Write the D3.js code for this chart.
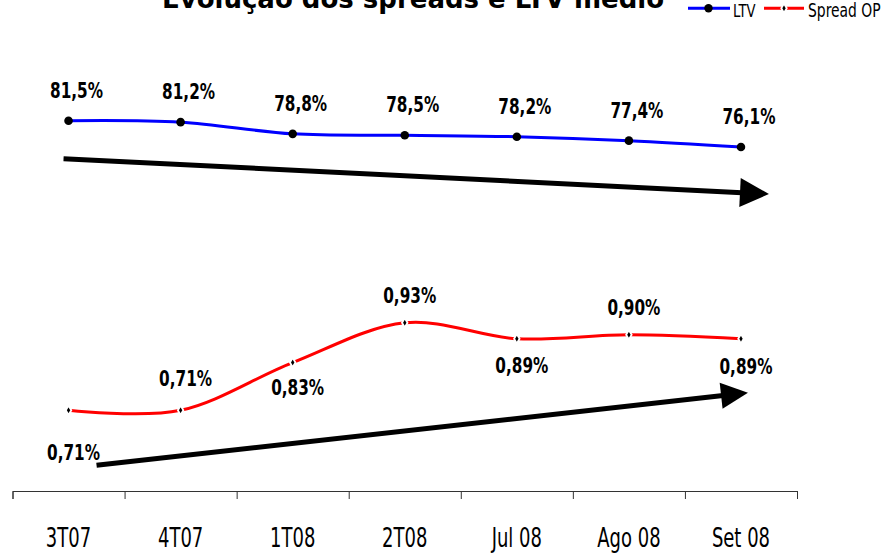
<!DOCTYPE html>
<html>
<head>
<meta charset="utf-8">
<script src="https://cdn.jsdelivr.net/npm/d3@7"></script>
<style>
  body { margin: 0; background: #fff; }
  svg { display: block; }
</style>
</head>
<body>
<svg id="chart" width="884" height="553"></svg>
<script>
var categories = ["3T07", "4T07", "1T08", "2T08", "Jul 08", "Ago 08", "Set 08"];
var ltvValues = [81.5, 81.2, 78.8, 78.5, 78.2, 77.4, 76.1];
var spreadValues = [0.71, 0.71, 0.83, 0.93, 0.89, 0.90, 0.89];
var seriesNames = ["LTV", "Spread OP"];
var title = "Evolução dos spreads e LTV médio";

// label placement for the spread series (px offset from its point)
var spreadLabelDy = [50, -24, 32, -20, 34, -20, 35];

var svg = d3.select("#chart");
var fmt = function(d, n){ return d.toFixed(n).replace(".", ",") + "%"; };

var x = d3.scaleBand().domain(categories).range([12.5, 797]);
var cx = function(i){ return x(categories[i]) + x.bandwidth() / 2; };
var yLtv = d3.scaleLinear().domain([60, 90]).range([225.4, 79.3]);
var ySpread = d3.scaleLinear().domain([0.6, 1.0]).range([454, 295]);

function stretchText(g, px, py, txt, size, weight, sy, anchor){
  return g.append("text")
    .attr("transform", "translate(" + px + "," + py + ") scale(1," + sy + ")")
    .attr("text-anchor", anchor || "middle")
    .style("font-family", "DejaVu Sans")
    .style("font-size", size + "px")
    .style("font-weight", weight)
    .text(txt);
}

// title (cut at the top as in the original)
svg.append("text")
  .attr("x", 413).attr("y", 7.5)
  .attr("text-anchor", "middle")
  .style("font-family", "DejaVu Sans")
  .style("font-weight", "bold")
  .style("font-size", "26px")
  .text(title);

// axis
var xt = d3.scaleLinear().domain([0, categories.length]).range(x.range());
var axis = svg.append("g")
  .attr("transform", "translate(0,491)")
  .call(d3.axisBottom(xt).tickValues(d3.range(categories.length + 1))
    .tickSize(8).tickSizeOuter(8).tickFormat(""));
axis.selectAll("path, line").attr("stroke", "#333");

categories.forEach(function(c, i){
  stretchText(svg, cx(i), 546.5, c, 18, "normal", 1.5);
});

var line = d3.line().curve(d3.curveCardinal.tension(0));

// LTV
var ltvPts = ltvValues.map(function(v, i){ return [cx(i), yLtv(v)]; });
svg.append("path")
  .attr("d", line(ltvPts))
  .attr("fill", "none")
  .attr("stroke", "#0000ff")
  .attr("stroke-width", 3);
svg.selectAll(".ltvdot").data(ltvPts).enter().append("circle")
  .attr("cx", function(d){ return d[0]; })
  .attr("cy", function(d){ return d[1]; })
  .attr("r", 4.3)
  .attr("fill", "#000");
ltvValues.forEach(function(v, i){
  stretchText(svg, cx(i) + 8, yLtv(v) - 23, fmt(v, 1), 15.3, "bold", 1.43);
});

// Spread
var spPts = spreadValues.map(function(v, i){ return [cx(i), ySpread(v)]; });
svg.append("path")
  .attr("d", line(spPts))
  .attr("fill", "none")
  .attr("stroke", "#ff0000")
  .attr("stroke-width", 3);
var diamond = d3.symbol().type(d3.symbolDiamond).size(26);
svg.selectAll(".spdot").data(spPts).enter().append("path")
  .attr("d", diamond)
  .attr("transform", function(d){ return "translate(" + d[0] + "," + d[1] + ")"; })
  .attr("fill", "#000")
  .attr("stroke", "#fff")
  .attr("stroke-width", 1.8);
spreadValues.forEach(function(v, i){
  stretchText(svg, cx(i) + 5, ySpread(v) + spreadLabelDy[i], fmt(v, 2), 15.3, "bold", 1.43);
});

// trend arrows
function arrow(p0, p1, len, hw){
  var dx = p1[0] - p0[0], dy = p1[1] - p0[1];
  var d = Math.sqrt(dx * dx + dy * dy);
  var ux = dx / d, uy = dy / d;
  var bx = p1[0] - ux * len, by = p1[1] - uy * len;
  svg.append("line")
    .attr("x1", p0[0]).attr("y1", p0[1])
    .attr("x2", bx + ux * 2).attr("y2", by + uy * 2)
    .attr("stroke", "#000").attr("stroke-width", 5);
  svg.append("path")
    .attr("d", "M" + p1[0] + "," + p1[1] +
      "L" + (bx - uy * hw) + "," + (by + ux * hw) +
      "L" + (bx + uy * hw) + "," + (by - ux * hw) + "Z")
    .attr("fill", "#000");
}
var nL = ltvPts.length - 1;
arrow([ltvPts[0][0] - 5, ltvPts[0][1] + 38], [ltvPts[nL][0] + 28, ltvPts[nL][1] + 47], 29, 14.5);
arrow([spPts[0][0] + 28, spPts[0][1] + 55], [spPts[nL][0] + 7, spPts[nL][1] + 54], 27, 13);

// legend
var lg = svg.append("g");
lg.append("line").attr("x1", 688).attr("x2", 730).attr("y1", 8.3).attr("y2", 8.3)
  .attr("stroke", "#0000ff").attr("stroke-width", 3);
lg.append("circle").attr("cx", 708.5).attr("cy", 8.3).attr("r", 4.2).attr("fill", "#000");
stretchText(lg, 733, 16.5, seriesNames[0], 13.2, "normal", 1.38, "start");
lg.append("line").attr("x1", 764).attr("x2", 804).attr("y1", 8.3).attr("y2", 8.3)
  .attr("stroke", "#ff0000").attr("stroke-width", 3);
lg.append("path").attr("d", diamond)
  .attr("transform", "translate(784,8.3)")
  .attr("fill", "#000").attr("stroke", "#fff").attr("stroke-width", 1.8);
stretchText(lg, 808, 16.5, seriesNames[1], 13.9, "normal", 1.38, "start");
</script>
</body>
</html>
